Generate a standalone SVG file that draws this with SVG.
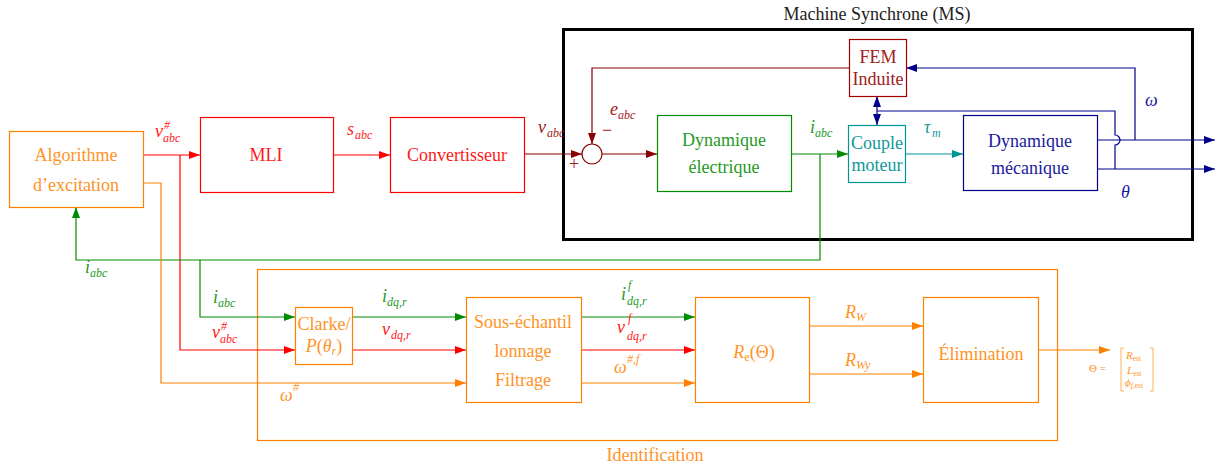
<svg xmlns="http://www.w3.org/2000/svg" width="1228" height="467" viewBox="0 0 1228 467">
<style>
.t{font-family:"Liberation Serif","DejaVu Serif",serif;font-size:18px;text-anchor:middle}
.m{font-family:"Liberation Serif","DejaVu Serif",serif;font-style:italic;font-size:18px}
.s{font-family:"Liberation Serif","DejaVu Serif",serif;font-style:italic;font-size:12px}
.v{font-family:"Liberation Serif","DejaVu Serif",serif;font-size:11px}
.b{fill:#fff;stroke-width:1.2}
.c{fill:none;stroke-width:1.2}
.red{stroke:#ff0000}.dred{stroke:#8b0000}.grn{stroke:#008c00}.teal{stroke:#009696}.blue{stroke:#00008b}.org{stroke:#ff8000}
.fred{fill:#ff1a1a}.fdred{fill:#a02020}.fgrn{fill:#1f9a1f}.fteal{fill:#119999}.fblue{fill:#1a1a9a}.forg{fill:#ff9326}
</style>
<defs>
<marker id="ar" markerUnits="userSpaceOnUse" markerWidth="11" markerHeight="8" refX="11" refY="4" orient="auto-start-reverse"><path d="M0,0L11,4L0,8z" fill="#ff0000"/></marker>
<marker id="adr" markerUnits="userSpaceOnUse" markerWidth="11" markerHeight="8" refX="11" refY="4" orient="auto-start-reverse"><path d="M0,0L11,4L0,8z" fill="#8b0000"/></marker>
<marker id="ag" markerUnits="userSpaceOnUse" markerWidth="11" markerHeight="8" refX="11" refY="4" orient="auto-start-reverse"><path d="M0,0L11,4L0,8z" fill="#008c00"/></marker>
<marker id="at" markerUnits="userSpaceOnUse" markerWidth="11" markerHeight="8" refX="11" refY="4" orient="auto-start-reverse"><path d="M0,0L11,4L0,8z" fill="#009696"/></marker>
<marker id="ab" markerUnits="userSpaceOnUse" markerWidth="11" markerHeight="8" refX="11" refY="4" orient="auto-start-reverse"><path d="M0,0L11,4L0,8z" fill="#00008b"/></marker>
<marker id="ao" markerUnits="userSpaceOnUse" markerWidth="11" markerHeight="8" refX="11" refY="4" orient="auto-start-reverse"><path d="M0,0L11,4L0,8z" fill="#ff8000"/></marker>
</defs>
<rect width="1228" height="467" fill="#fff"/>

<!-- containers -->
<g id="ms">
<rect x="563.5" y="29.5" width="629" height="210" fill="none" stroke="#000" stroke-width="3"/>
<text class="t" x="877" y="20" fill="#222">Machine Synchrone (MS)</text>
</g>
<g id="identification">
<rect x="257.5" y="269.5" width="800" height="171" class="c org"/>
<text class="t forg" x="655" y="461">Identification</text>
</g>

<!-- connectors -->
<g id="connectors">
<path class="c red" d="M143,155H200" marker-end="url(#ar)"/>
<path class="c red" d="M180,155V350H295" marker-end="url(#ar)"/>
<path class="c red" d="M333,155H390" marker-end="url(#ar)"/>
<path class="c red" d="M352,350H466" marker-end="url(#ar)"/>
<path class="c red" d="M581,350H695" marker-end="url(#ar)"/>
<path class="c dred" d="M524,154H582" marker-end="url(#adr)"/>
<path class="c dred" d="M602,154H657" marker-end="url(#adr)"/>
<path class="c dred" d="M849,68H592V144" marker-end="url(#adr)"/>
<path class="c grn" d="M791,154H848" marker-end="url(#ag)"/>
<path class="c grn" d="M820,154V260H76V207" marker-end="url(#ag)"/>
<path class="c grn" d="M200,260V317H295" marker-end="url(#ag)"/>
<path class="c grn" d="M352,317H466" marker-end="url(#ag)"/>
<path class="c grn" d="M581,317H695" marker-end="url(#ag)"/>
<path class="c teal" d="M905,154H963" marker-end="url(#at)"/>
<path class="c blue" d="M1097,140H1215" marker-end="url(#ab)"/>
<path class="c blue" d="M1097,169H1215" marker-end="url(#ab)"/>
<path class="c blue" d="M1135,140V68H906" marker-end="url(#ab)"/>
<path class="c blue" d="M1115,169V145A5,5 0 0 0 1115,135V111H877"/>
<path class="c blue" d="M877,96V125" marker-start="url(#ab)" marker-end="url(#ab)"/>
<path class="c org" d="M143,183H161V383H466" marker-end="url(#ao)"/>
<path class="c org" d="M581,383H695" marker-end="url(#ao)"/>
<path class="c org" d="M809,326H923" marker-end="url(#ao)"/>
<path class="c org" d="M809,374H923" marker-end="url(#ao)"/>
<path class="c org" d="M1038,350H1110" marker-end="url(#ao)"/>
</g>

<!-- nodes -->
<g id="algorithme">
<rect x="9.5" y="131.5" width="134" height="76" class="b org"/>
<text class="t forg" x="76" y="161">Algorithme</text>
<text class="t forg" x="76" y="191">d’excitation</text>
</g>
<g id="mli">
<rect x="200.5" y="117.5" width="133" height="75" class="b red"/>
<text class="t fred" x="266" y="161">MLI</text>
</g>
<g id="convertisseur">
<rect x="390.5" y="117.5" width="134" height="75" class="b red"/>
<text class="t fred" x="457" y="161">Convertisseur</text>
</g>
<g id="sum">
<circle cx="592" cy="154" r="10" class="b dred"/>
<text class="t fdred" x="607" y="136">−</text>
<text class="t fdred" x="574" y="170">+</text>
</g>
<g id="dyn-elec">
<rect x="657.5" y="115.5" width="134" height="76" class="b grn"/>
<text class="t fgrn" x="724" y="146">Dynamique</text>
<text class="t fgrn" x="724" y="173">électrique</text>
</g>
<g id="fem">
<rect x="849.5" y="39.5" width="57" height="57" class="b" stroke="#a00000"/>
<text class="t fdred" x="878" y="63">FEM</text>
<text class="t fdred" x="878" y="85">Induite</text>
</g>
<g id="couple">
<rect x="848.5" y="125.5" width="57" height="57" class="b teal"/>
<text class="t fteal" x="877" y="149">Couple</text>
<text class="t fteal" x="877" y="171">moteur</text>
</g>
<g id="dyn-meca">
<rect x="963.5" y="115.5" width="134" height="75" class="b blue"/>
<text class="t fblue" x="1030" y="147">Dynamique</text>
<text class="t fblue" x="1030" y="174">mécanique</text>
</g>
<g id="clarke">
<rect x="295.5" y="307.5" width="57" height="57" class="b org"/>
<text class="t forg" x="324" y="330">Clarke/</text>
<text class="t forg" x="324" y="352"><tspan font-style="italic">P</tspan>(<tspan font-style="italic">θ</tspan><tspan font-size="12" font-style="italic" dy="3">r</tspan><tspan dy="-3">)</tspan></text>
</g>
<g id="sous-echantillonnage">
<rect x="466.5" y="297.5" width="115" height="105" class="b org"/>
<text class="t forg" x="523" y="328">Sous-échantil</text>
<text class="t forg" x="523" y="357">lonnage</text>
<text class="t forg" x="523" y="386">Filtrage</text>
</g>
<g id="re">
<rect x="695.5" y="297.5" width="114" height="105" class="b org"/>
<text class="t forg" x="754" y="358"><tspan font-style="italic">R</tspan><tspan font-size="12" dy="3">e</tspan><tspan dy="-3">(Θ)</tspan></text>
</g>
<g id="elimination">
<rect x="923.5" y="297.5" width="115" height="105" class="b org"/>
<text class="t forg" x="981" y="360">Élimination</text>
</g>
<g id="theta-vector">
<text class="v forg" x="1089" y="372" font-size="12">Θ =</text>
<path d="M1124,348H1121V391H1124M1150,348H1153V391H1150" fill="none" stroke="#ffa64d" stroke-width="0.9"/>
<text class="v forg" x="1126" y="359"><tspan font-style="italic">R</tspan><tspan font-size="7.5" dy="2">est</tspan></text>
<text class="v forg" x="1127" y="374"><tspan font-style="italic">L</tspan><tspan font-size="7.5" dy="2">est</tspan></text>
<text class="v forg" x="1125" y="386"><tspan font-style="italic">ϕ</tspan><tspan font-size="7.5" dy="2"><tspan font-style="italic">f</tspan>,est</tspan></text>
</g>

<!-- labels -->
<g id="labels">
<text class="m fred" x="155" y="137">v</text><text class="s fred" x="164" y="129">#</text><text class="s fred" x="163" y="142">abc</text>
<text class="m fred" x="347" y="135">s</text><text class="s fred" x="355" y="139">abc</text>
<text class="m fdred" x="538" y="133">v</text><text class="s fdred" x="547" y="137">abc</text>
<text class="m fdred" x="610" y="115">e</text><text class="s fdred" x="618" y="119">abc</text>
<text class="m fgrn" x="810" y="133">i</text><text class="s fgrn" x="815" y="137">abc</text>
<text class="m fteal" x="924" y="133">τ</text><text class="s fteal" x="932" y="137">m</text>
<text class="m fblue" x="1145" y="106">ω</text>
<text class="m fblue" x="1121" y="198">θ</text>
<text class="m fgrn" x="85" y="273">i</text><text class="s fgrn" x="90" y="277">abc</text>
<text class="m fgrn" x="213" y="303">i</text><text class="s fgrn" x="218" y="307">abc</text>
<text class="m fred" x="212" y="338">v</text><text class="s fred" x="221" y="330">#</text><text class="s fred" x="220" y="343">abc</text>
<text class="m fgrn" x="382" y="302">i</text><text class="s fgrn" x="387" y="306">dq,r</text>
<text class="m fred" x="382" y="335">v</text><text class="s fred" x="391" y="339">dq,r</text>
<text class="m forg" x="280" y="401">ω</text><text class="s forg" x="293" y="391">#</text>
<text class="m fgrn" x="621" y="300">i</text><text class="s fgrn" x="628" y="289">f</text><text class="s fgrn" x="627" y="305">dq,r</text>
<text class="m fred" x="617" y="333">v</text><text class="s fred" x="628" y="322">f</text><text class="s fred" x="627" y="340">dq,r</text>
<text class="m forg" x="614" y="373">ω</text><text class="s forg" x="627" y="363">#,f</text>
<text class="m forg" x="845" y="318">R</text><text class="s forg" x="856" y="321">W</text>
<text class="m forg" x="845" y="366">R</text><text class="s forg" x="856" y="369">Wy</text>
</g>
</svg>
